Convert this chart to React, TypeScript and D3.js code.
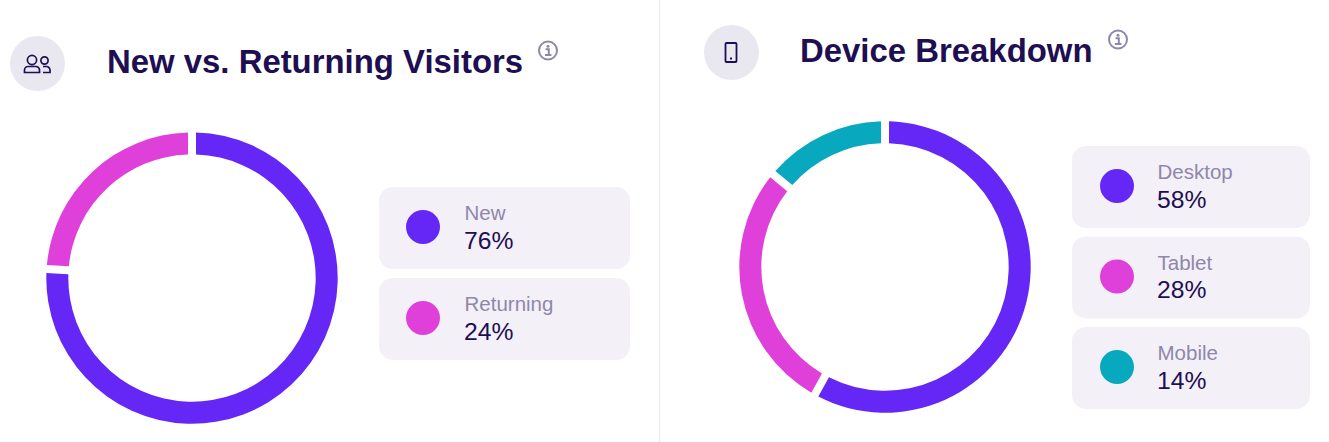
import React from "react";
import * as d3 from "d3";

const visitorLabels = ["New", "Returning"];
const visitorValues = [76, 24];
const deviceLabels = ["Desktop", "Tablet", "Mobile"];
const deviceValues = [58, 28, 14];
const sliceColors = ["#6527f5", "#df40d9", "#08a8be"];
const titles = ["New vs. Returning Visitors", "Device Breakdown"];

const FONT = "'Liberation Sans', Arial, sans-serif";
const DARK = "#1e0e52";
const MUTED = "#8f87ab";

function Donut({ cx, cy, values }: { cx: number; cy: number; values: number[] }) {
  const pie = d3.pie<number>().sort(null).value((d) => d);
  const arc = d3
    .arc<d3.PieArcDatum<number>>()
    .innerRadius(123.7)
    .outerRadius(145.7)
    .padRadius(135)
    .padAngle(8 / 135);
  const arcs = pie(values);
  return (
    <g transform={`translate(${cx},${cy})`}>
      {arcs.map((a, i) => (
        <path key={i} d={arc(a) ?? ""} fill={sliceColors[i]} />
      ))}
    </g>
  );
}

function Legend({ x, y, step, w, dotX, labels, values }: { x: number; y: number; step: number; w: number; dotX: number; labels: string[]; values: number[] }) {
  return (
    <g fontFamily={FONT}>
      {labels.map((l, i) => {
        const ty = y + i * step;
        return (
          <g key={l}>
            <rect x={x} y={ty} width={w} height={82} rx={14} fill="#f3f1f7" />
            <circle cx={dotX} cy={ty + 40} r={17} fill={sliceColors[i]} />
            <text x={x + 85.5} y={ty + 33} fontSize={20.5} fill={MUTED}>{l}</text>
            <text x={x + 85} y={ty + 61.5} fontSize={24.7} fill={DARK}>{values[i]}%</text>
          </g>
        );
      })}
    </g>
  );
}

function Info({ cx, cy }: { cx: number; cy: number }) {
  return (
    <g>
      <circle cx={cx} cy={cy} r={9} fill="none" stroke="#8f87ab" strokeWidth={2} />
      <circle cx={cx} cy={cy - 4.3} r={1.5} fill="#8f87ab" />
      <path d={`M${cx - 2.4} ${cy - 1.2}H${cx + 0.8}V${cy + 4}M${cx - 3} ${cy + 4.6}H${cx + 3.4}`} fill="none" stroke="#8f87ab" strokeWidth={2} />
    </g>
  );
}

export default function App() {
  return (
    <svg width={1329} height={442} style={{ position: "absolute", left: 0, top: 0, background: "#fff" }}>
      <line x1={659.5} x2={659.5} y1={0} y2={442} stroke="#e9e8ee" strokeWidth={1} />

      <circle cx={37.5} cy={63.5} r={27.5} fill="#e9e8f0" />
      <g fill="none" stroke={DARK} strokeWidth={1.7}>
        <circle cx={32} cy={60} r={4.6} />
        <path d="M28 66.5h8a3.5 3.5 0 0 1 3.5 3.5v2.5h-15V70a3.5 3.5 0 0 1 3.5 -3.5z" />
        <circle cx={44.5} cy={60.5} r={3.6} />
        <path d="M43 66.5h3.5a3.5 3.5 0 0 1 3.5 3.5v2.5h-7" />
      </g>
      <circle cx={731.5} cy={52.5} r={27.5} fill="#e9e8f0" />
      <g fill="none" stroke={DARK} strokeWidth={1.8}>
        <rect x={725.5} y={43} width={11} height={19} rx={1} />
      </g>
      <rect x={730} y={57.5} width={2} height={2} fill={DARK} />

      <text x={107} y={72.5} fontFamily={FONT} fontWeight={700} fontSize={32.9} fill={DARK}>{titles[0]}</text>
      <text x={800} y={61.5} fontFamily={FONT} fontWeight={700} fontSize={32.9} fill={DARK}>{titles[1]}</text>
      <Info cx={548} cy={50.5} />
      <Info cx={1118} cy={39.5} />

      <Donut cx={192} cy={278.1} values={visitorValues} />
      <Donut cx={885} cy={267} values={deviceValues} />

      <Legend x={379} y={187} step={91} w={251} dotX={423} labels={visitorLabels} values={visitorValues} />
      <Legend x={1072} y={146} step={90.5} w={238} dotX={1117} labels={deviceLabels} values={deviceValues} />
    </svg>
  );
}
